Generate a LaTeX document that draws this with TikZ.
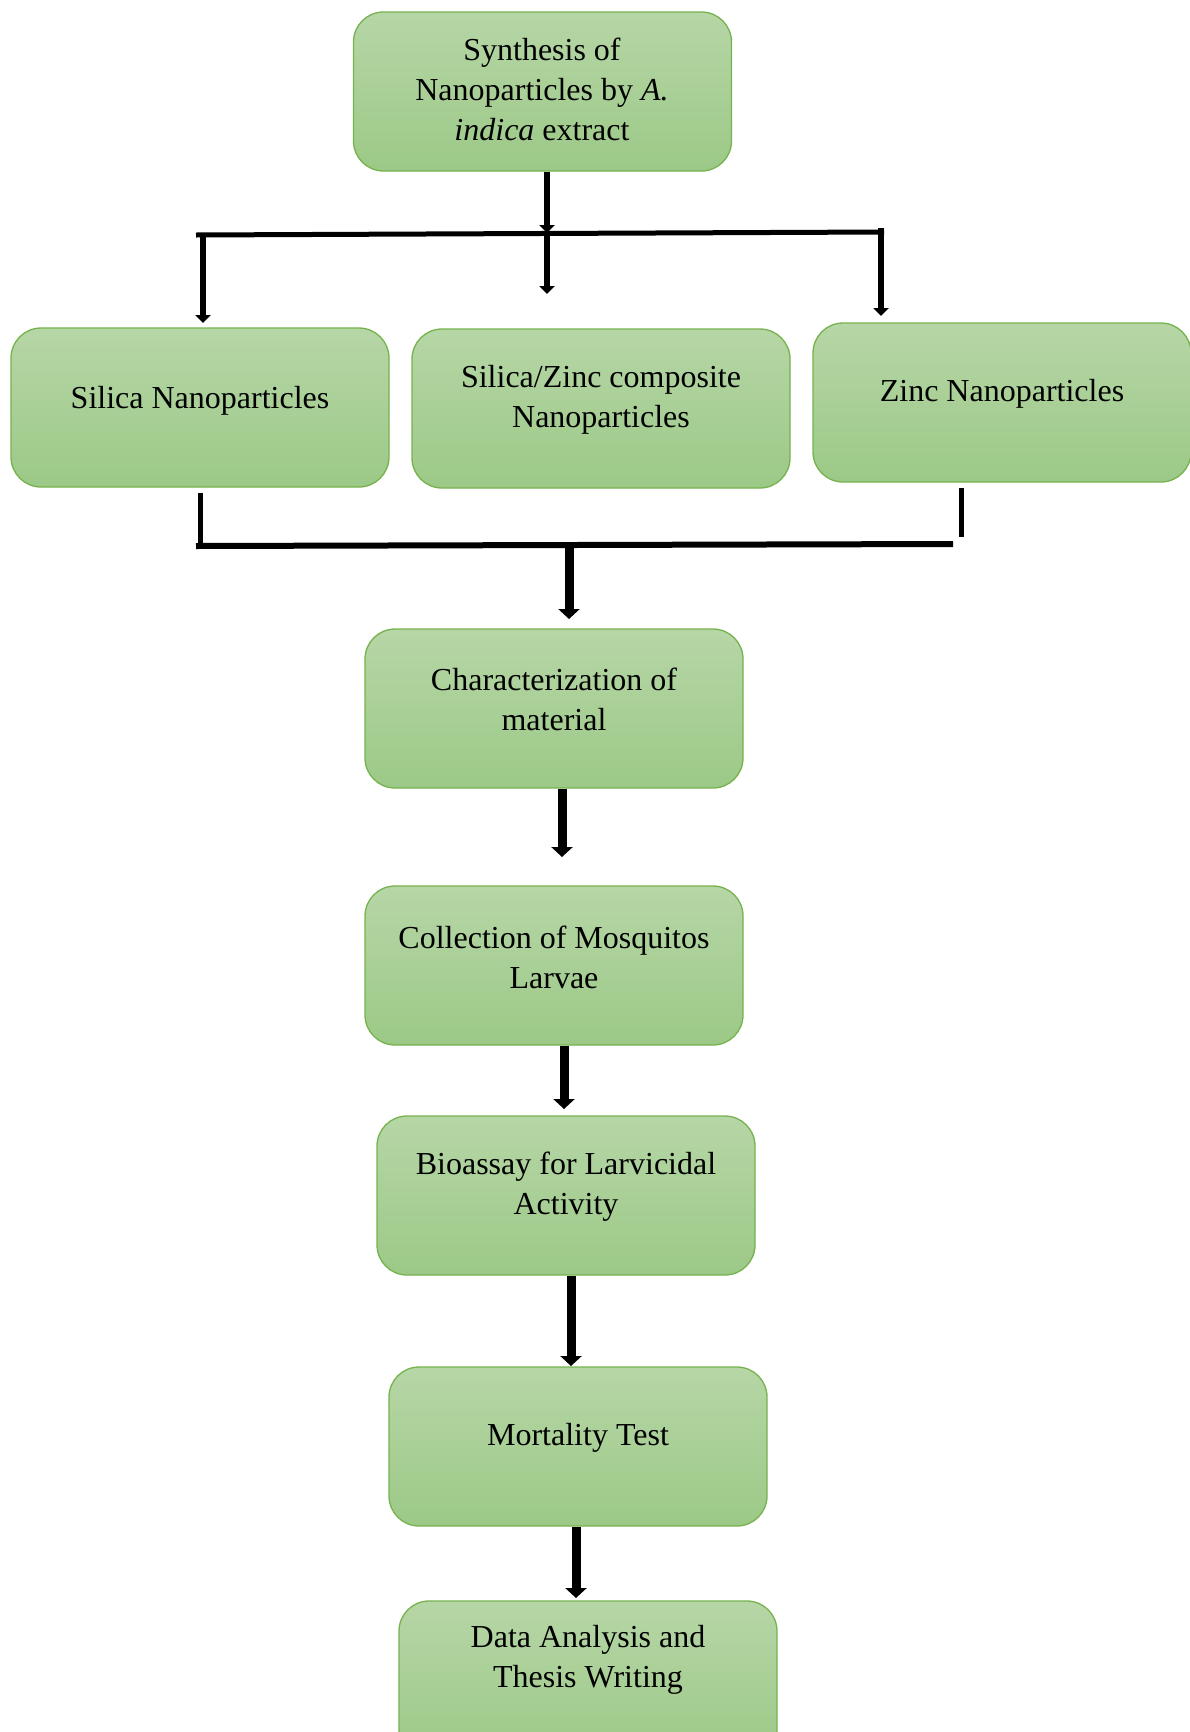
\documentclass[tikz,border=0pt]{standalone}
\usepackage{fontspec}
\setmainfont{Liberation Serif}
\usetikzlibrary{arrows.meta}
\definecolor{boxtop}{RGB}{182,214,166}
\definecolor{boxbot}{RGB}{156,201,135}
\definecolor{boxline}{RGB}{118,178,78}
\tikzset{
  box/.style={draw=boxline, line width=1.3pt, rounded corners=30pt, top color=boxtop, bottom color=boxbot, minimum width=378pt, minimum height=159pt, inner sep=0pt},
  lbl/.style={align=center, font=\fontsize{32}{40}\selectfont, inner sep=0pt},
  thinarr/.style={line width=5.5pt, -{Triangle[width=15pt,length=8pt]}},
  thickarr/.style={line width=9pt, -{Triangle[width=21pt,length=10pt]}},
  bar/.style={line width=5pt},
  barthick/.style={line width=6pt}
}
\begin{document}
\begin{tikzpicture}[x=1pt,y=-1pt]
\useasboundingbox (0,0) rectangle (1190,1732);
\clip (0,0) rectangle (1190,1732);
% boxes
\node[box] (top) at (542.5,91.5) {};
\node[box] (silica) at (200,407.5) {};
\node[box] (comp) at (601,408.5) {};
\node[box] (zinc) at (1002,402.5) {};
\node[box] (char) at (554,708.5) {};
\node[box] (coll) at (554,965.5) {};
\node[box] (bio) at (566,1195.5) {};
\node[box] (mort) at (578,1446.5) {};
\node[box] (data) at (588,1680.5) {};
% texts
\node[lbl] (topt) at (542,89) {Synthesis of\\Nanoparticles by \textit{A.}\\\textit{indica} extract};
\node[lbl] (silicat) at (200,401) {Silica Nanoparticles};
\node[lbl] (compt) at (601,400) {Silica/Zinc composite\\Nanoparticles};
\node[lbl] (zinct) at (1002,394) {Zinc Nanoparticles};
\node[lbl] (chart) at (554,699) {Characterization of\\material};
\node[lbl] (collt) at (554,957) {Collection of Mosquitos\\Larvae};
\node[lbl] (biot) at (566,1187) {Bioassay for Larvicidal\\Activity};
\node[lbl] (mortt) at (578,1438) {Mortality Test};
\node[lbl] (datat) at (588,1660) {Data Analysis and\\Thesis Writing};
% split coordinates
\coordinate (hl) at (196,235);
\coordinate (hr) at (884,232);
\coordinate (split) at (547,233);
\coordinate (lstart) at (203,235);
\coordinate (mend) at (547,294);
\coordinate (rstart) at (881,228);
% top split
\draw[bar] (hl) -- (hr);
\draw[thinarr] (top.south -| split) -- (split);
\draw[thinarr] (lstart) -- (lstart |- 0,323);
\draw[thinarr] (split) -- (mend);
\draw[thinarr] (rstart) -- (rstart |- 0,316);
% merge
\coordinate (ml) at (196,546);
\coordinate (mr) at (953,544);
\coordinate (merge) at (569,545);
\draw[bar] (silica.south -| 200,0) ++(0,5) -- (200,544);
\draw[bar] (zinc.south -| 961,0) ++(0,5) -- (961,537);
\draw[barthick] (ml) -- (mr);
\draw[thickarr] (merge) -- (merge |- 0,619);
% chain
\draw[thickarr] (char.south -| 562,0) -- (562,857);
\draw[thickarr] (coll.south -| 564,0) -- (564,1109);
\draw[thickarr] (bio.south -| 571,0) -- (571,1366);
\draw[thickarr] (mort.south -| 576,0) -- (576,1598);
\end{tikzpicture}
\end{document}
